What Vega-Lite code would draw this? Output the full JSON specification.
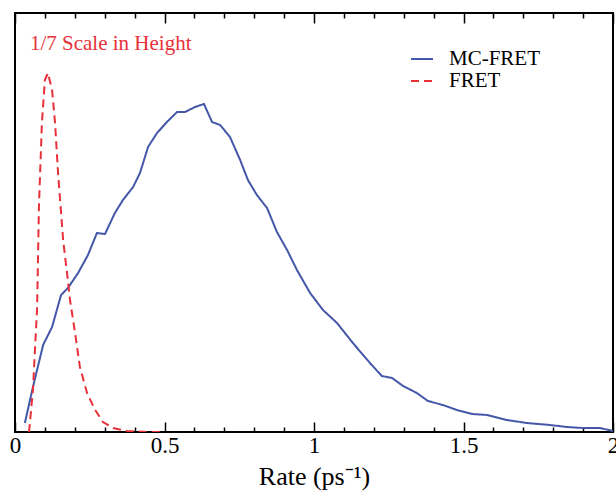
{
  "$schema": "https://vega.github.io/schema/vega-lite/v6.json",
  "width": 598,
  "height": 419,
  "autosize": {"type": "none"},
  "padding": {"left": 15, "top": 13, "right": 3, "bottom": 64},
  "background": "white",
  "config": {
    "view": {"stroke": "#000", "strokeWidth": 2},
    "axis": {"domain": false, "tickColor": "#000", "tickWidth": 1.5, "grid": false,
             "labelFont": "Liberation Serif, Times New Roman, serif", "labelFontSize": 23, "labelColor": "#000",
             "titleFont": "Liberation Serif, Times New Roman, serif", "titleFontSize": 26, "titleFontWeight": "normal", "titleColor": "#000"},
    "legend": {"orient": "none", "legendX": 395, "legendY": 34, "symbolType": "stroke", "symbolSize": 484,
               "symbolStrokeWidth": 2, "labelFont": "Liberation Serif, Times New Roman, serif", "labelFontSize": 21, "labelColor": "#000",
               "labelOffset": 15, "rowPadding": -3, "title": null}
  },
  "datasets": {
    "curves": [
      {"series": "MC-FRET", "rate": 0.033, "v": 9},
      {"series": "MC-FRET", "rate": 0.060, "v": 45},
      {"series": "MC-FRET", "rate": 0.094, "v": 87},
      {"series": "MC-FRET", "rate": 0.124, "v": 105},
      {"series": "MC-FRET", "rate": 0.154, "v": 137},
      {"series": "MC-FRET", "rate": 0.177, "v": 144},
      {"series": "MC-FRET", "rate": 0.211, "v": 159},
      {"series": "MC-FRET", "rate": 0.244, "v": 177},
      {"series": "MC-FRET", "rate": 0.274, "v": 199},
      {"series": "MC-FRET", "rate": 0.301, "v": 198},
      {"series": "MC-FRET", "rate": 0.334, "v": 219},
      {"series": "MC-FRET", "rate": 0.361, "v": 232},
      {"series": "MC-FRET", "rate": 0.395, "v": 245},
      {"series": "MC-FRET", "rate": 0.418, "v": 259},
      {"series": "MC-FRET", "rate": 0.445, "v": 285},
      {"series": "MC-FRET", "rate": 0.475, "v": 299},
      {"series": "MC-FRET", "rate": 0.508, "v": 310},
      {"series": "MC-FRET", "rate": 0.542, "v": 320},
      {"series": "MC-FRET", "rate": 0.569, "v": 320},
      {"series": "MC-FRET", "rate": 0.602, "v": 325},
      {"series": "MC-FRET", "rate": 0.632, "v": 328},
      {"series": "MC-FRET", "rate": 0.659, "v": 310},
      {"series": "MC-FRET", "rate": 0.686, "v": 307},
      {"series": "MC-FRET", "rate": 0.719, "v": 295},
      {"series": "MC-FRET", "rate": 0.753, "v": 272},
      {"series": "MC-FRET", "rate": 0.779, "v": 252},
      {"series": "MC-FRET", "rate": 0.809, "v": 237},
      {"series": "MC-FRET", "rate": 0.843, "v": 224},
      {"series": "MC-FRET", "rate": 0.876, "v": 200},
      {"series": "MC-FRET", "rate": 0.910, "v": 182},
      {"series": "MC-FRET", "rate": 0.943, "v": 162},
      {"series": "MC-FRET", "rate": 0.987, "v": 139},
      {"series": "MC-FRET", "rate": 1.030, "v": 122},
      {"series": "MC-FRET", "rate": 1.077, "v": 109},
      {"series": "MC-FRET", "rate": 1.130, "v": 89},
      {"series": "MC-FRET", "rate": 1.187, "v": 69},
      {"series": "MC-FRET", "rate": 1.227, "v": 56},
      {"series": "MC-FRET", "rate": 1.261, "v": 54},
      {"series": "MC-FRET", "rate": 1.298, "v": 46},
      {"series": "MC-FRET", "rate": 1.344, "v": 39},
      {"series": "MC-FRET", "rate": 1.381, "v": 31},
      {"series": "MC-FRET", "rate": 1.431, "v": 27},
      {"series": "MC-FRET", "rate": 1.478, "v": 22},
      {"series": "MC-FRET", "rate": 1.528, "v": 18},
      {"series": "MC-FRET", "rate": 1.579, "v": 17},
      {"series": "MC-FRET", "rate": 1.645, "v": 12},
      {"series": "MC-FRET", "rate": 1.712, "v": 9},
      {"series": "MC-FRET", "rate": 1.789, "v": 7},
      {"series": "MC-FRET", "rate": 1.846, "v": 5},
      {"series": "MC-FRET", "rate": 1.900, "v": 4},
      {"series": "MC-FRET", "rate": 1.957, "v": 4},
      {"series": "MC-FRET", "rate": 2.000, "v": 1},
      {"series": "FRET", "rate": 0.047, "v": 0},
      {"series": "FRET", "rate": 0.060, "v": 42},
      {"series": "FRET", "rate": 0.074, "v": 125},
      {"series": "FRET", "rate": 0.080, "v": 225},
      {"series": "FRET", "rate": 0.090, "v": 309},
      {"series": "FRET", "rate": 0.100, "v": 352},
      {"series": "FRET", "rate": 0.110, "v": 359},
      {"series": "FRET", "rate": 0.124, "v": 342},
      {"series": "FRET", "rate": 0.134, "v": 309},
      {"series": "FRET", "rate": 0.144, "v": 259},
      {"series": "FRET", "rate": 0.161, "v": 192},
      {"series": "FRET", "rate": 0.174, "v": 159},
      {"series": "FRET", "rate": 0.184, "v": 132},
      {"series": "FRET", "rate": 0.201, "v": 99},
      {"series": "FRET", "rate": 0.217, "v": 65},
      {"series": "FRET", "rate": 0.241, "v": 39},
      {"series": "FRET", "rate": 0.268, "v": 22},
      {"series": "FRET", "rate": 0.294, "v": 10},
      {"series": "FRET", "rate": 0.328, "v": 4},
      {"series": "FRET", "rate": 0.375, "v": 1},
      {"series": "FRET", "rate": 0.450, "v": 0},
      {"series": "FRET", "rate": 0.500, "v": 0}
    ],
    "note": [
      {"rate": 0.05, "v": 382, "label": "1/7 Scale in Height"}
    ]
  },
  "resolve": {"axis": {"x": "independent"}},
  "layer": [
    {
      "data": {"name": "curves"},
      "mark": {"type": "line", "strokeWidth": 2, "clip": true},
      "encoding": {
        "x": {"field": "rate", "type": "quantitative",
              "scale": {"domain": [0, 2], "nice": false, "zero": false},
              "axis": {"orient": "bottom", "values": [0, 0.5, 1, 1.5, 2], "tickSize": -10,
                       "labelPadding": 12, "labelBound": false, "labelOverlap": false, "labelFlush": false,
                       "format": "~g", "title": "Rate (ps⁻¹)", "titlePadding": 6}},
        "y": {"field": "v", "type": "quantitative", "scale": {"domain": [0, 419], "nice": false}, "axis": null},
        "color": {"field": "series", "type": "nominal",
                  "scale": {"domain": ["MC-FRET", "FRET"], "range": ["#4457a8", "#e8303a"]}},
        "strokeDash": {"field": "series", "type": "nominal",
                       "scale": {"domain": ["MC-FRET", "FRET"], "range": [[1, 0], [8, 5]]}},
        "order": {"field": "rate", "type": "quantitative"}
      }
    },
    {
      "data": {"name": "note"},
      "mark": {"type": "text", "font": "Liberation Serif, Times New Roman, serif", "fontSize": 21, "color": "#e8303a", "align": "left", "baseline": "alphabetic"},
      "encoding": {
        "x": {"field": "rate", "type": "quantitative",
              "axis": {"orient": "bottom", "values": [0.1, 0.2, 0.3, 0.4, 0.6, 0.7, 0.8, 0.9, 1.1, 1.2, 1.3, 1.4, 1.6, 1.7, 1.8, 1.9],
                       "tickSize": -5, "labels": false, "title": null}},
        "y": {"field": "v", "type": "quantitative"},
        "text": {"field": "label"}
      }
    },
    {
      "data": {"name": "note"},
      "mark": {"type": "text", "text": ""},
      "encoding": {
        "x": {"field": "rate", "type": "quantitative",
              "axis": {"orient": "top", "values": [0, 0.5, 1, 1.5, 2], "tickSize": -10, "labels": false, "title": null}},
        "y": {"field": "v", "type": "quantitative"}
      }
    },
    {
      "data": {"name": "note"},
      "mark": {"type": "text", "text": ""},
      "encoding": {
        "x": {"field": "rate", "type": "quantitative",
              "axis": {"orient": "top", "values": [0.1, 0.2, 0.3, 0.4, 0.6, 0.7, 0.8, 0.9, 1.1, 1.2, 1.3, 1.4, 1.6, 1.7, 1.8, 1.9],
                       "tickSize": -5, "labels": false, "title": null}},
        "y": {"field": "v", "type": "quantitative"}
      }
    }
  ]
}
